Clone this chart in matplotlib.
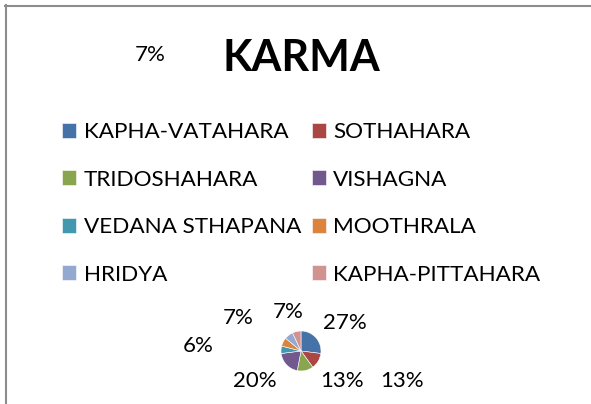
import matplotlib.pyplot as plt
from matplotlib.lines import Line2D

W, H = 591, 404

labels = ["KAPHA-VATAHARA", "SOTHAHARA", "TRIDOSHAHARA", "VISHAGNA",
          "VEDANA STHAPANA", "MOOTHRALA", "HRIDYA", "KAPHA-PITTAHARA"]
values = [27, 13, 13, 20, 6, 7, 7, 7]
colors = ["#4572a7", "#aa4643", "#89a54e", "#71588f",
          "#4198af", "#db843d", "#93a9cf", "#d19392"]

# where excel left the data labels (pixels from top-left)
label_xy = [(345, 323), (402, 381), (342, 381), (255, 381),
            (198, 346), (238, 318), (288, 312), (150, 55)]

plt.rcParams['font.family'] = ['Lato', 'DejaVu Sans']

fig = plt.figure(figsize=(W / 100, H / 100), dpi=100)

# chart frame (only top and left edges visible)
fig.add_artist(Line2D([5.5 / W, 5.5 / W], [0, 1 - 5 / H], color="#8c8c8c", lw=1.5))
fig.add_artist(Line2D([5 / W, 1], [1 - 5.5 / H, 1 - 5.5 / H], color="#8c8c8c", lw=1.5))

fig.text(301 / W, 1 - 58 / H, "KARMA", ha="center", va="center",
         fontsize=31, fontweight="bold")

cx, cy, r = 301, 351, 20
ax = fig.add_axes([(cx - r) / W, 1 - (cy + r) / H, 2 * r / W, 2 * r / H])
wedges, _, pcts = ax.pie(values, colors=colors, startangle=90, counterclock=False,
                         autopct="%d%%", radius=1,
                         wedgeprops=dict(linewidth=0.4, edgecolor="white"),
                         textprops=dict(fontsize=16))
ax.set_xlim(-1, 1)
ax.set_ylim(-1, 1)
ax.set_aspect("equal")
ax.axis("off")

for t, (x, y) in zip(pcts, label_xy):
    t.set_transform(fig.transFigure)
    t.set_position((x / W, 1 - y / H))
    t.set_ha("center")
    t.set_va("center")
    t.set_clip_on(False)

# legend reads row by row, matplotlib fills columns first
order = [0, 2, 4, 6, 1, 3, 5, 7]
fig.legend([wedges[i] for i in order], [labels[i] for i in order],
           loc="upper left", bbox_to_anchor=(51 / W, 1 - 111 / H),
           ncol=2, frameon=False, fontsize=16.2, borderpad=0,
           handlelength=0.62, handleheight=0.62, handletextpad=0.35,
           labelspacing=1.22, columnspacing=0.45)

fig.savefig("out.png", dpi=100)
